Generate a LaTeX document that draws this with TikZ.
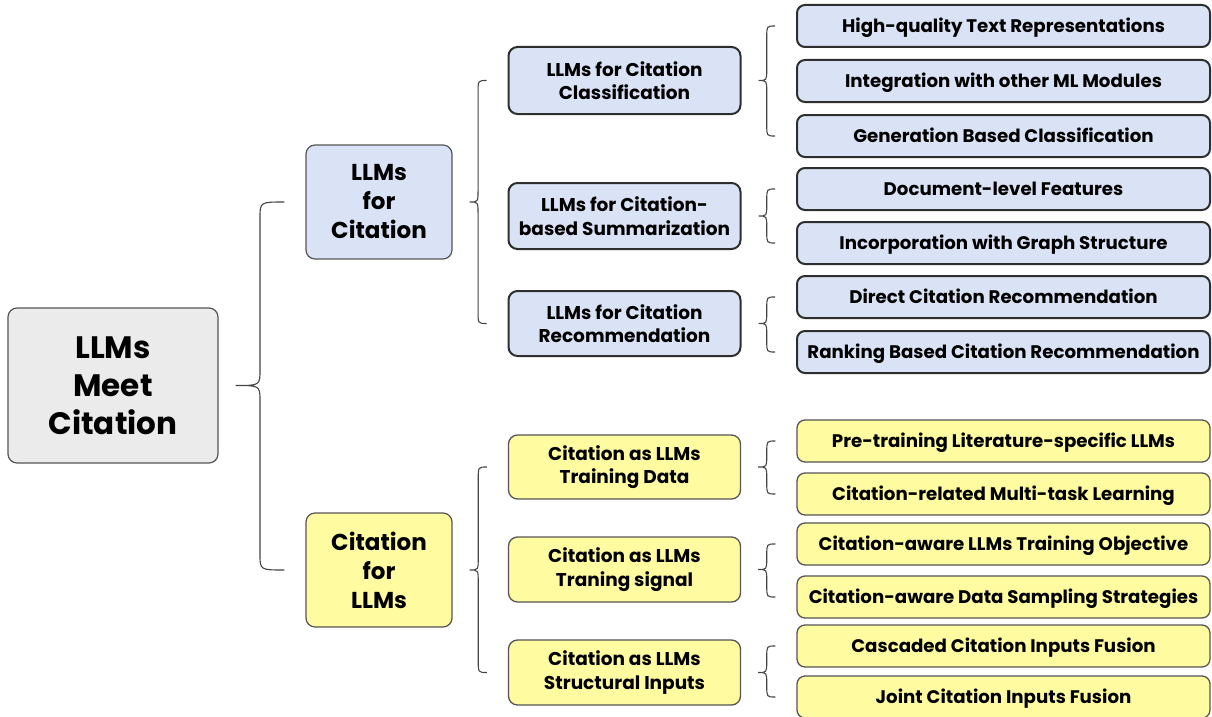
\documentclass[tikz,border=0pt]{standalone}
\usepackage{fontspec}
\setmainfont{Poppins}
\usetikzlibrary{calc}
\definecolor{blueF}{HTML}{DAE3F5}
\definecolor{yellowF}{HTML}{FFFBA0}
\definecolor{grayF}{HTML}{EBEBEB}
\definecolor{darkB}{HTML}{2E2E2E}
\definecolor{grayB}{HTML}{555555}
\definecolor{braceC}{HTML}{444444}
\newcommand{\brc}[4]{%
  \draw[bracestyle] let \p1=(#1.east), \p2=(#2.west), \p3=(#3.west),
    \n1={\x1+17pt}, \n2={\x2-21pt}, \n3={(\n1+\n2)/2} in
    (\n2,\y2) .. controls (\n3,\y2) .. (\n3,\y2-#4)
    -- (\n3,\y1+#4) .. controls (\n3,\y1) .. (\n1,\y1)
    .. controls (\n3,\y1) .. (\n3,\y1-#4)
    -- (\n3,\y3+#4) .. controls (\n3,\y3) .. (\n2,\y3);}
\tikzset{
  bracestyle/.style={draw=braceC, line width=1.1pt},
  base/.style={rounded corners=9pt, align=center, font=\bfseries, inner sep=0pt},
  rootbox/.style={base, fill=grayF, draw=grayB, line width=1.2pt,
    minimum width=210pt, minimum height=155pt, font=\fontsize{31}{38}\bfseries},
  lonebox/.style={base, draw=grayB, line width=1.2pt,
    minimum width=146pt, minimum height=114pt, font=\fontsize{23}{29}\bfseries},
  ltwobox/.style={base, minimum width=232pt, font=\fontsize{18.5}{23.5}\bfseries},
  leafbox/.style={base, rounded corners=8pt, minimum width=413pt, minimum height=42pt,
    text height=16pt, text depth=3pt, font=\fontsize{18.2}{20}\bfseries},
  bluel/.style={fill=blueF, draw=darkB, line width=2pt},
  yell/.style={fill=yellowF, draw=grayB, line width=1.3pt},
}
\begin{document}
\begin{tikzpicture}[x=1pt,y=-1pt]
\useasboundingbox (0,0) rectangle (1212,717);
% root
\node[rootbox] (root) at (113,385.5) {LLMs\\Meet\\Citation};
% level 1
\node[lonebox, fill=blueF] (lfc) at (379,202) {LLMs\\for\\Citation};
\node[lonebox, fill=yellowF] (cfl) at (379,570) {Citation\\for\\LLMs};
% level 2
\node[ltwobox, bluel, minimum height=67pt] (cls) at (624.5,80.5) {LLMs for Citation\\Classification};
\node[ltwobox, bluel, minimum height=66pt] (sum) at (624.5,216) {LLMs for Citation-\\based Summarization};
\node[ltwobox, bluel, minimum height=65pt] (rec) at (624.5,323.5) {LLMs for Citation\\Recommendation};
\node[ltwobox, yell, minimum height=64pt] (tdata) at (624.5,467) {Citation as LLMs\\Training Data};
\node[ltwobox, yell, minimum height=65pt] (tsig) at (624.5,569.5) {Citation as LLMs\\Traning signal};
\node[ltwobox, yell, minimum height=65pt] (sinp) at (624.5,672.5) {Citation as LLMs\\Structural Inputs};
% leaves
\node[leafbox, bluel] (a1) at (1003.5,26) {High-quality Text Representations};
\node[leafbox, bluel] (a2) at (1003.5,81) {Integration with other ML Modules};
\node[leafbox, bluel] (a3) at (1003.5,136) {Generation Based Classification};
\node[leafbox, bluel] (b1) at (1003.5,189) {Document-level Features};
\node[leafbox, bluel] (b2) at (1003.5,243) {Incorporation with Graph Structure};
\node[leafbox, bluel] (c1) at (1003.5,297) {Direct Citation Recommendation};
\node[leafbox, bluel] (c2) at (1003.5,352) {Ranking Based Citation Recommendation};
\node[leafbox, yell] (d1) at (1003.5,441) {Pre-training Literature-specific LLMs};
\node[leafbox, yell] (d2) at (1003.5,494) {Citation-related Multi-task Learning};
\node[leafbox, yell] (e1) at (1003.5,544) {Citation-aware LLMs Training Objective};
\node[leafbox, yell] (e2) at (1003.5,597) {Citation-aware Data Sampling Strategies};
\node[leafbox, yell] (f1) at (1003.5,646) {Cascaded Citation Inputs Fusion};
\node[leafbox, yell] (f2) at (1003.5,697) {Joint Citation Inputs Fusion};
% braces
\brc{root}{lfc}{cfl}{16pt}
\brc{lfc}{cls}{rec}{12pt}
\brc{cfl}{tdata}{sinp}{12pt}
\brc{cls}{a1}{a3}{11pt}
\brc{sum}{b1}{b2}{11pt}
\brc{rec}{c1}{c2}{11pt}
\brc{tdata}{d1}{d2}{11pt}
\brc{tsig}{e1}{e2}{11pt}
\brc{sinp}{f1}{f2}{11pt}
\end{tikzpicture}
\end{document}
